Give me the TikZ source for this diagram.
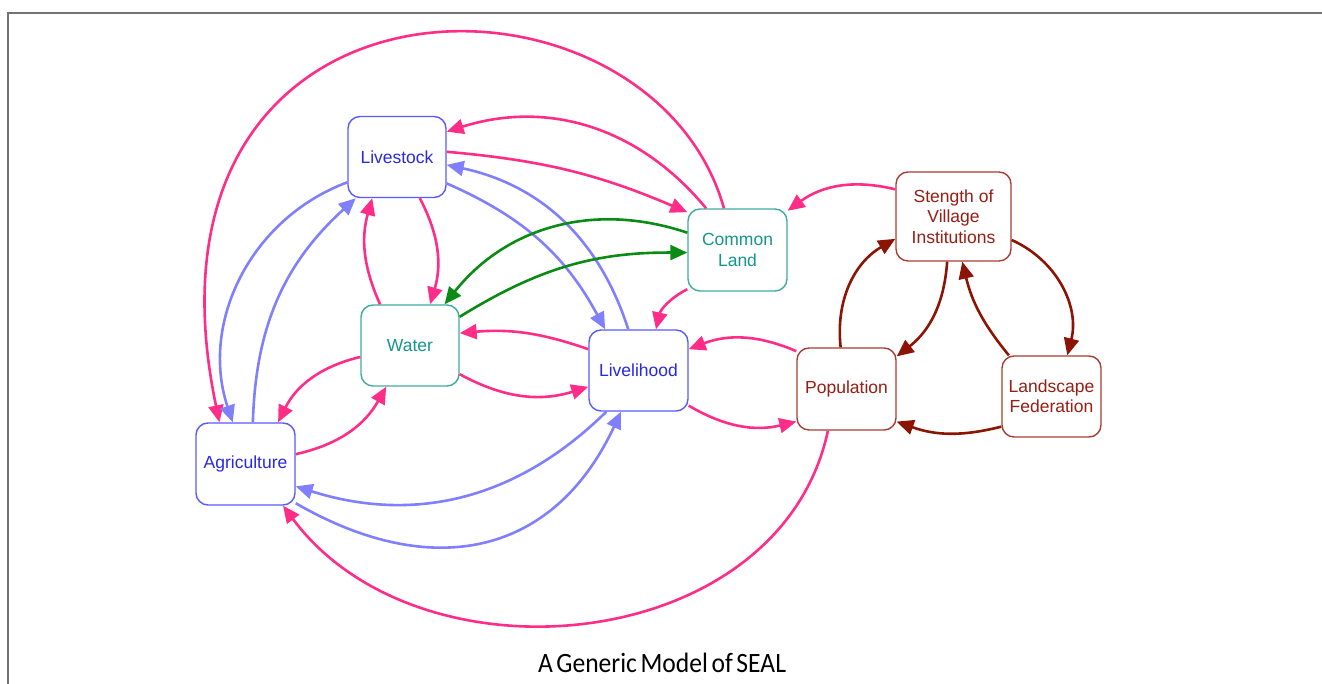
\documentclass[tikz,border=0pt]{standalone}
\usepackage{fontspec}
\usepackage{graphicx}
\setmainfont{Liberation Sans}
\newfontfamily\capfont{Carlito}
\usetikzlibrary{arrows.meta}
\definecolor{bluebd}{RGB}{90,90,255}
\definecolor{bluetx}{RGB}{40,40,230}
\definecolor{tealbd}{RGB}{64,170,160}
\definecolor{tealtx}{RGB}{20,150,140}
\definecolor{redbd}{RGB}{170,60,50}
\definecolor{redtx}{RGB}{150,30,20}
\definecolor{pinkln}{RGB}{255,45,135}
\definecolor{lavln}{RGB}{128,128,255}
\definecolor{greenln}{RGB}{10,140,20}
\definecolor{darkredln}{RGB}{140,20,5}
\definecolor{framegray}{RGB}{115,115,115}
\tikzset{
  boxnode/.style={rectangle, rounded corners=12pt, line width=1.4pt, fill=white,
    minimum width=98pt, minimum height=81pt, align=center, inner sep=2pt,
    font=\fontsize{17.5}{20.5}\selectfont},
  bluenode/.style={boxnode, draw=bluebd, text=bluetx},
  tealnode/.style={boxnode, draw=tealbd, text=tealtx},
  rednode/.style={boxnode, draw=redbd, text=redtx},
  conn/.style={line width=2.6pt, -{Triangle[length=17pt,width=15pt]}},
  pk/.style={conn, color=pinkln},
  lv/.style={conn, color=lavln},
  gr/.style={conn, color=greenln},
  dr/.style={conn, color=darkredln},
  framestyle/.style={draw=framegray, line width=2pt},
}
\begin{document}
\begin{tikzpicture}[x=1pt,y=1pt]
\useasboundingbox (0,0) rectangle (1322,684);
\draw[framestyle] (8,-5) -- (8,671) -- (1330,671);

\node[bluenode] (liv) at (397,527) {Livestock};
\node[tealnode, minimum width=99pt, minimum height=82pt] (cl) at (737.5,434) {Common\\Land};
\node[tealnode] (wat) at (410,338.5) {Water};
\node[bluenode, minimum width=99pt] (lh) at (638.5,313.5) {Livelihood};
\node[bluenode, minimum width=99pt, minimum height=82pt] (agr) at (245.5,220) {Agriculture};
\node[rednode, minimum width=115pt, minimum height=89pt] (svi) at (953.5,467.5) {Stength of\\Village\\Institutions};
\node[rednode, minimum width=99pt, minimum height=82pt] (pop) at (846.5,295) {Population};
\node[rednode, minimum width=99pt] (lf) at (1051.5,287.5) {Landscape\\Federation};

% pink connectors
\draw[pk] (cl.127) to[bend right=34] (liv.27);
\draw[pk] (liv.6) to[bend left=9] (cl.143);
\draw[pk] (cl.108) .. controls (650,738) and (120,738) .. (agr.122);
\draw[pk] (liv.-61) to[bend left=22] (wat.64);
\draw[pk] (wat.126) to[bend left=20] (liv.-121);
\draw[pk] (wat.-167) to[bend right=25] (agr.52);
\draw[pk] (agr.11) to[bend right=24] (wat.-120);
\draw[pk] (lh.157) to[bend right=12] (wat.14);
\draw[pk] (wat.-30) to[bend right=23] (lh.-162);
\draw[pk] (cl.-142) to[bend right=25] (lh.67);
\draw[pk] (svi.155) to[bend right=25] (cl.38);
\draw[pk] (pop.143) to[bend right=22] (lh.23);
\draw[pk] (lh.-35) to[bend right=22] (pop.-147);
\draw[pk] (pop.-114) .. controls (780,29) and (420,-6) .. (agr.-48);

% lavender connectors
\draw[lv] (liv.-153) to[bend right=44] (agr.107);
\draw[lv] (agr.80) to[bend left=23] (liv.-135);
\draw[lv] (liv.-28) to[bend left=19] (lh.129);
\draw[lv] (lh.104) to[bend right=30] (liv.-9);
\draw[lv] (lh.-128) to[bend left=31] (agr.-24);
\draw[lv] (agr.-38) to[out=-30,in=-115,looseness=1.2] (lh.-113);

% green connectors
\draw[gr] (cl.161) to[bend right=35] (wat.50);
\draw[gr] (wat.30) to[bend left=16] (cl.-177);

% dark red connectors
\draw[dr] (svi.-22) to[bend left=40] (lf.69);
\draw[dr] (lf.136) to[bend left=13] (svi.-79);
\draw[dr] (svi.-98) to[bend left=24] (pop.33);
\draw[dr] (pop.98) to[bend left=33] (svi.-159);
\draw[dr] (lf.-149) to[bend left=17] (pop.-33);

\node[anchor=base, inner sep=0pt] (cap) at (662,11.3)
  {\resizebox{248pt}{\height}{\capfont\fontsize{28}{30}\selectfont\spaceskip=0.14em\relax A Generic Model of SEAL}};
\end{tikzpicture}
\end{document}
